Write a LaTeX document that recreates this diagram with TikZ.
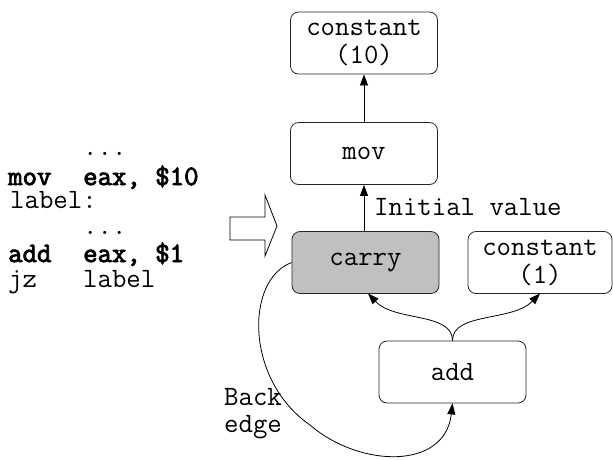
\documentclass[tikz,border=0pt]{standalone}
\usepackage{fontspec}
\newfontfamily\monobold[FakeBold=3]{Latin Modern Mono}
\usetikzlibrary{arrows.meta}
\tikzset{
  ir/.style={draw=black!85, line width=0.8pt, rounded corners=8pt, minimum width=147pt,
             minimum height=62pt, inner sep=0pt, align=center, font=\ttfamily\fontsize{28}{28}\selectfont},
  lbl/.style={inner sep=0pt, font=\ttfamily\fontsize{28}{28}\selectfont},
  code/.style={inner sep=0pt, anchor=base west, text height=14pt, text depth=3pt,
               font=\ttfamily\fontsize{28}{26}\selectfont},
  codeb/.style={code, font=\monobold\fontsize{28}{26}\selectfont},
  link/.style={draw=black, line width=0.8pt, -{Triangle[length=11pt,width=8pt]}}
}
\begin{document}
\begin{tikzpicture}[x=1pt,y=-1pt]
\useasboundingbox (0,0) rectangle (613,459);

% assembly fragment
\node[code]  (dots1) at (83,155) {...};
\node[codeb] (op1)   at (8,185)  {mov};
\node[codeb] (arg1)  at (83,185) {eax, \$10};
\node[code]  (lab)   at (10,208) {label:};
\node[code]  (dots2) at (83,234) {...};
\node[codeb] (op2)   at (8,262)  {add};
\node[codeb] (arg2)  at (83,262) {eax, \$1};
\node[code]  (op3)   at (8,287)  {jz};
\node[code]  (arg3)  at (83,287) {label};

% transformation arrow
\draw[line width=0.8pt] (230,217) -- (265,217) -- (265,195) -- (277,226)
  -- (265,256) -- (265,240) -- (230,240) -- cycle;

% data-flow graph
\node[ir] (c10)   at (364,43)     {constant\\(10)};
\node[ir] (mov)   at (364,153.5)  {mov};
\node[ir, fill={rgb,255:red,192;green,192;blue,192}] (carry) at (365.5,262.5) {carry};
\node[ir, minimum width=144pt] (c1) at (540,262.5) {constant\\(1)};
\node[ir] (add)   at (452.5,372)  {add};

\draw[link] (mov.north) -- (c10.south);
\draw[link] (carry.north -| mov.south) -- (mov.south);
\node[lbl, anchor=base west] (init) at (374,215) {Initial value};

\draw[link] (add.north) .. controls (452.5,312) and (395,322) .. (368,293.5);
\draw[link] (add.north) .. controls (452.5,312) and (512,322) .. (540,293.5);

\draw[link] (carry.west) .. controls (245,280) and (245,380) .. (310,425)
  .. controls (360,468) and (445,470) .. (add.south);
\node[lbl, anchor=base west] (back) at (224,405) {Back};
\node[lbl, anchor=base west] (edge) at (224,432) {edge};
\end{tikzpicture}
\end{document}
